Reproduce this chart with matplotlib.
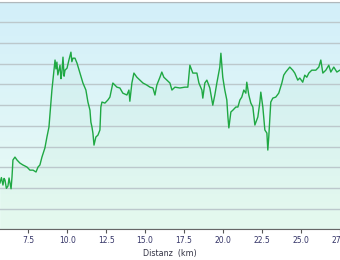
import matplotlib
matplotlib.use("Agg")
import matplotlib.pyplot as plt
import numpy as np
from matplotlib.colors import LinearSegmentedColormap

# elevation profile (distance in km, elevation in m)
distanz = [5.69, 5.78, 5.88, 5.95, 6.01, 6.10, 6.20, 6.27, 6.33, 6.40, 6.46, 6.52,
           6.65, 6.78, 6.97, 7.16, 7.42,
           7.61, 7.81, 8.00, 8.13, 8.25, 8.38, 8.57, 8.70, 8.83, 8.90, 9.02, 9.15,
           9.22, 9.28, 9.34, 9.40, 9.47, 9.54, 9.60, 9.66, 9.73, 9.80, 9.86, 9.99,
           10.11, 10.24, 10.30, 10.37, 10.50,
           10.63, 10.82, 11.01, 11.20, 11.33, 11.46, 11.52, 11.59, 11.65, 11.72, 11.84,
           11.97, 12.10, 12.16, 12.23, 12.42, 12.61, 12.74, 12.93, 13.19, 13.38, 13.57,
           13.83, 13.96, 14.02, 14.15, 14.28, 14.47, 14.66, 14.86, 15.11, 15.31, 15.50,
           15.63, 15.75, 15.95, 16.07, 16.20, 16.40, 16.59, 16.72, 16.91, 17.23, 17.55,
           17.74, 17.87, 18.06, 18.32, 18.45, 18.64, 18.70, 18.83, 18.96, 19.15, 19.34,
           19.47, 19.60, 19.79, 19.86, 19.98, 20.11, 20.24, 20.31, 20.37, 20.50, 20.63,
           20.82, 20.95, 21.08, 21.20, 21.33, 21.46, 21.52, 21.65, 21.78, 21.91, 22.04,
           22.23, 22.36, 22.42, 22.55, 22.68, 22.81, 22.87, 22.93, 23.06, 23.19, 23.38,
           23.57, 23.77, 23.89, 24.02, 24.28, 24.47, 24.60, 24.79, 24.92, 25.11, 25.24,
           25.37, 25.50, 25.69, 25.95, 26.14, 26.27, 26.40, 26.59, 26.78, 26.91, 27.10,
           27.30, 27.49]
hoehe = [422.4, 425.0, 421.4, 424.6, 423.8, 419.8, 420.9, 424.8, 422.4, 419.6, 425.3, 433.5,
         434.9, 433.5, 432.0, 431.1, 430.1,
         428.6, 428.6, 427.7, 430.1, 431.1, 434.9, 439.3, 444.6, 449.4, 456.2, 467.3, 476.9,
         481.8, 477.5, 480.8, 474.6, 476.9, 479.3, 472.8, 475.9, 483.2, 474.0, 476.9, 477.9,
         481.8, 485.6, 481.0, 482.7, 482.7,
         480.3, 475.5, 470.7, 467.3, 461.5, 457.6, 451.8, 449.4, 446.5, 440.7, 444.6,
         445.5, 448.0, 459.1, 461.5, 461.0, 462.5, 463.9, 470.7, 468.7, 468.3, 465.8,
         464.9, 467.3, 461.9, 470.7, 475.5, 473.5, 472.1, 470.7, 469.7, 468.7, 468.3,
         464.9, 469.7, 473.5, 476.0, 473.5, 472.1, 470.7, 467.3, 468.7, 468.3, 468.7,
         468.7, 479.3, 475.5, 475.5, 470.7, 467.3, 463.4, 470.7, 472.1, 468.3, 460.0,
         464.9, 470.7, 478.4, 485.1, 473.5, 467.3, 462.5, 454.3, 449.0, 456.7, 457.6,
         459.1, 459.1, 462.5, 463.9, 467.3, 465.8, 471.1, 464.9, 461.0, 459.1, 450.4,
         454.3, 461.5, 466.3, 459.1, 448.0, 446.5, 438.3, 444.6, 461.5, 463.4, 463.9,
         465.8, 470.7, 474.5, 476.0, 478.4, 476.9, 475.5, 472.1, 473.1, 471.1, 474.5,
         473.5, 475.5, 476.9, 476.9, 478.4, 481.8, 475.5, 476.9, 479.3, 476.0, 478.4,
         476.0, 476.9]
x_ticks = [7.5, 10.0, 12.5, 15.0, 17.5, 20.0, 22.5, 25.0, 27.5]

fig = plt.figure(figsize=(3.4, 2.6), dpi=100)
ax = fig.add_axes([0, 0.118, 1, 0.8755])

x_min, x_max = 5.69, 27.49
y_min, y_max = 400, 510

# vertical background gradient, light blue at the top to pale mint at the bottom
bg = LinearSegmentedColormap.from_list("bg", ["#ecfcf5", "#d2effa"])
grad = np.linspace(0, 1, 256).reshape(-1, 1)
ax.imshow(grad, extent=[x_min, x_max, y_min, y_max], origin="lower",
          aspect="auto", cmap=bg, zorder=0)

ax.fill_between(distanz, hoehe, y_min, color="#2aa84a", alpha=0.035, zorder=1, lw=0)
ax.plot(distanz, hoehe, color="#1fa843", lw=1.0, zorder=3)

ax.set_xlim(x_min, x_max)
ax.set_ylim(y_min, y_max)
ax.set_yticks(np.arange(y_min, y_max + 1, 10))
ax.set_yticklabels([])
ax.tick_params(axis="y", length=0)
ax.grid(True, axis="y", color="#bcc8cc", lw=1.0, zorder=2)

ax.set_xticks(x_ticks)
ax.set_xticklabels([f"{t:.1f}" for t in x_ticks])
ax.tick_params(axis="x", length=3, width=0.8, color="#555555", pad=2,
               labelsize=5.5, labelcolor="#333366")
ax.set_xlabel("Distanz  (km)", fontsize=5.8, color="#333344", labelpad=3)

for side in ["left", "right"]:
    ax.spines[side].set_visible(False)
ax.spines["top"].set_color("#b0b8bc")
ax.spines["bottom"].set_color("#666666")
ax.spines["bottom"].set_linewidth(0.8)

fig.savefig("out.png", dpi=100)
